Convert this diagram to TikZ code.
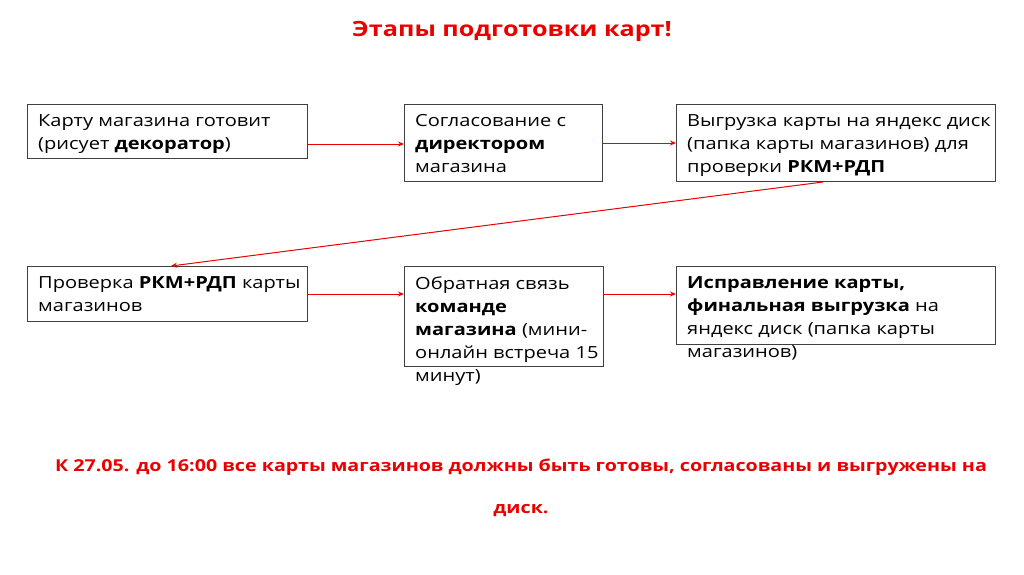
\documentclass[tikz,border=0pt]{standalone}
\usepackage{fontspec}
\setmainfont{Open Sans}[FakeStretch=1.2]
\usetikzlibrary{arrows.meta}
\definecolor{tred}{RGB}{235,0,0}
\begin{document}
\begin{tikzpicture}[x=1pt,y=-1pt,
  box/.style={draw=black!75,line width=1pt,anchor=north west,inner sep=0pt,minimum width=#1},
  txt/.style={anchor=north west,inner sep=0pt,align=left,font=\fontsize{16.7}{23}\selectfont,text depth=0pt},
  arr/.style={draw=tred,line width=1pt,-{Stealth[length=6pt,width=5pt]}}]
\useasboundingbox (0,0) rectangle (1024,574);
\node[font=\fontsize{21}{23}\selectfont\bfseries,text=tred] (title) at (512,31) {Этапы подготовки карт!};
% boxes
\node[box=280pt,minimum height=54pt] (b1) at (27,104) {};
\node[box=198pt,minimum height=77pt] (b2) at (404,104) {};
\node[box=319pt,minimum height=77pt] (b3) at (676,104) {};
\node[box=280pt,minimum height=55pt] (b4) at (27,266) {};
\node[box=199pt,minimum height=100pt] (b5) at (404,266) {};
\node[box=319pt,minimum height=78pt] (b6) at (676,266) {};
% texts
\node[txt] (t1) at ([shift={(11,10.5)}]b1.north west) {Карту магазина готовит\\(рисует \textbf{декоратор})};
\node[txt] (t2) at ([shift={(11,10.5)}]b2.north west) {Согласование с\\\textbf{директором}\\магазина};
\node[txt] (t3) at ([shift={(11,10.5)}]b3.north west) {Выгрузка карты на яндекс диск\\(папка карты магазинов) для\\проверки \textbf{РКМ+РДП}};
\node[txt] (t4) at ([shift={(11,10.5)}]b4.north west) {Проверка \textbf{РКМ+РДП} карты\\магазинов};
\node[txt] (t5) at ([shift={(11,10.5)}]b5.north west) {Обратная связь\\\textbf{команде}\\\textbf{магазина} (мини-\\онлайн встреча 15\\минут)};
\node[txt] (t6) at ([shift={(11,10.5)}]b6.north west) {\textbf{Исправление карты,}\\\textbf{финальная выгрузка} на\\яндекс диск (папка карты\\магазинов)};
% arrows
\draw[arr] (b1.east |- 0,144) -- (b2.west |- 0,144);
\draw[arr] (b2.east |- 0,143) -- (b3.west |- 0,143);
\draw[arr] ([xshift=147pt]b3.south west) -- ([xshift=144pt]b4.north west);
\draw[arr] (b4.east |- 0,294) -- (b5.west |- 0,294);
\draw[arr] (b5.east |- 0,294) -- (b6.west |- 0,294);
% bottom note
\node[font=\fontsize{16.4}{23}\selectfont\bfseries,text=tred] (note1) at (521,467) {К 27.05. до 16:00 все карты магазинов должны быть готовы, согласованы и выгружены на};
\node[font=\fontsize{16.4}{23}\selectfont\bfseries,text=tred] (note2) at (521,511) {диск.};
\end{tikzpicture}
\end{document}
